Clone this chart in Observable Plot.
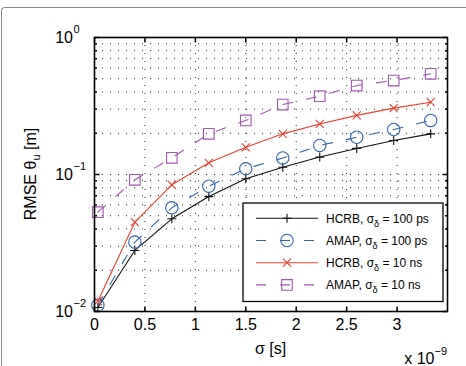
<!DOCTYPE html>
<html>
<head>
<meta charset="utf-8">
<script src="https://cdn.jsdelivr.net/npm/d3@7"></script>
<script src="https://cdn.jsdelivr.net/npm/@observablehq/plot@0.6"></script>
<style>
  body { margin: 0; background: #fff; }
  #fig { position: relative; width: 466px; height: 366px; overflow: hidden; background: #fff;
         font-family: "Liberation Sans", Arial, Helvetica, sans-serif; }
  #fig svg { display: block; }
  #edge { position: absolute; left: 1px; top: 6.5px; width: 500px; height: 420px;
          border-top: 1.5px solid #8a8a8a; border-left: 1.5px solid #8a8a8a;
          border-top-left-radius: 4px; pointer-events: none; }
</style>
</head>
<body>
<div id="fig"><div id="edge"></div></div>
<script>
// σ values along the x axis, in units of 1e-9 s (shown with the "x 10^-9" multiplier)
const sigmaNs = [0.0333, 0.4, 0.7667, 1.1333, 1.5, 1.8667, 2.2333, 2.6, 2.9667, 3.3333];

// RMSE of θ_u [m] for each curve
const hcrb100ps = [0.0107, 0.0279, 0.0475, 0.069, 0.093, 0.113, 0.134, 0.155, 0.177, 0.198];
const amap100ps = [0.0111, 0.0321, 0.0571, 0.0822, 0.110, 0.132, 0.163, 0.187, 0.213, 0.248];
const hcrb10ns  = [0.0119, 0.0449, 0.0841, 0.1217, 0.158, 0.198, 0.234, 0.270, 0.305, 0.337];
const amap10ns  = [0.0531, 0.0915, 0.1324, 0.198, 0.248, 0.324, 0.373, 0.446, 0.485, 0.543];

// legend text parts
const seriesMethod = ["HCRB", "AMAP", "HCRB", "AMAP"];
const seriesDelta  = ["100 ps", "100 ps", "10 ns", "10 ns"];

// axis ticks
const xTicks = [0, 0.5, 1, 1.5, 2, 2.5, 3];
const yTicks = [0.01, 0.1, 1];
const yMinor = [0.02, 0.03, 0.04, 0.05, 0.06, 0.07, 0.08, 0.09, 0.2, 0.3, 0.4, 0.5, 0.6, 0.7, 0.8, 0.9];

// ---- marker shapes (fixed pixel size, stroke only) ----
const plusSym  = {draw(c) { const a = 4.5; c.moveTo(-a, 0); c.lineTo(a, 0); c.moveTo(0, -a); c.lineTo(0, a); }};
const timesSym = {draw(c) { const a = 4; c.moveTo(-a, -a); c.lineTo(a, a); c.moveTo(-a, a); c.lineTo(a, -a); }};
const circSym  = {draw(c) { const r = 6.2; c.moveTo(r, 0); c.arc(0, 0, r, 0, 2 * Math.PI); c.closePath(); }};
const sqSym    = {draw(c) { const a = 5.3; c.moveTo(-a, -a); c.lineTo(a, -a); c.lineTo(a, a); c.lineTo(-a, a); c.closePath(); }};
const tickSym  = (dx, dy) => ({draw(c) { c.moveTo(0, 0); c.lineTo(dx, dy); }});

const styles = [
  {color: "#111111", dash: null,    symbol: plusSym},
  {color: "#3363ad", dash: "10,14", symbol: circSym},
  {color: "#e8402f", dash: null,    symbol: timesSym},
  {color: "#a157ae", dash: "10,14", symbol: sqSym}
];
const seriesValues = [hcrb100ps, amap100ps, hcrb10ns, amap10ns];

const series = seriesValues.map((vals, k) => sigmaNs.map((x, j) => ({x, y: vals[j], k})));

const W = 466, H = 366;
const mL = 94, mR = 19, mT = 37, mB = 55;
const MAJ = 5, MIN = 2.5;

const marks = [
  // dotted grid
  Plot.gridX(xTicks.filter(d => d > 0), {stroke: "#000", strokeOpacity: 0.85, strokeWidth: 1, strokeDasharray: "1,7"}),
  Plot.gridY(yMinor.concat([0.1]), {stroke: "#000", strokeOpacity: 0.85, strokeWidth: 1, strokeDasharray: "1,7"}),
];

// curves and their markers
series.forEach((data, k) => {
  const s = styles[k];
  marks.push(Plot.line(data, {x: "x", y: "y", stroke: s.color, strokeWidth: 1.1, strokeDasharray: s.dash}));
  marks.push(Plot.dot(data, {x: "x", y: "y", symbol: s.symbol, stroke: s.color, fill: "none", strokeWidth: 1.1}));
});

// inward ticks on all four sides
marks.push(
  Plot.dot(xTicks, {x: d => d, frameAnchor: "bottom", symbol: tickSym(0, -MAJ), stroke: "#000", fill: "none"}),
  Plot.dot(xTicks, {x: d => d, frameAnchor: "top", symbol: tickSym(0, MAJ), stroke: "#000", fill: "none"}),
  Plot.dot(yTicks, {y: d => d, frameAnchor: "left", symbol: tickSym(MAJ, 0), stroke: "#000", fill: "none"}),
  Plot.dot(yTicks, {y: d => d, frameAnchor: "right", symbol: tickSym(-MAJ, 0), stroke: "#000", fill: "none"}),
  Plot.dot(yMinor, {y: d => d, frameAnchor: "left", symbol: tickSym(MIN, 0), stroke: "#000", fill: "none"}),
  Plot.dot(yMinor, {y: d => d, frameAnchor: "right", symbol: tickSym(-MIN, 0), stroke: "#000", fill: "none"}),
  Plot.frame({stroke: "#000", strokeWidth: 1.6}),
  // x tick labels
  Plot.axisX(xTicks, {anchor: "bottom", tickSize: 0, tickPadding: 7, fontSize: 16, label: null,
                      tickFormat: d => String(d)}),
  // y tick labels: "10" with a raised exponent
  Plot.text(yTicks, {y: d => d, frameAnchor: "left", text: () => "10", textAnchor: "end",
                     dx: -21.5, fontSize: 16, lineAnchor: "middle"}),
  Plot.text(yTicks, {y: d => d, frameAnchor: "left", textAnchor: "start", dx: -21, dy: -8.5, fontSize: 11,
                     lineAnchor: "middle",
                     text: d => { const e = Math.round(Math.log10(d)); return e < 0 ? "\u2212" + (-e) : String(e); }})
);

const plot = Plot.plot({
  width: W, height: H,
  marginLeft: mL, marginRight: mR, marginTop: mT, marginBottom: mB,
  style: {fontFamily: "'Liberation Sans', Arial, Helvetica, sans-serif", background: "transparent", color: "#000"},
  x: {domain: [0, 3.5], axis: null},
  y: {type: "log", domain: [0.01, 1], axis: null},
  marks
});

const svg = d3.select(plot);

// y-axis title
const yl = svg.append("text")
  .attr("transform", `translate(35.5,${(mT + H - mB) / 2}) rotate(-90)`)
  .attr("text-anchor", "middle").attr("font-size", 16).attr("fill", "#000");
yl.append("tspan").text("RMSE \u03b8");
yl.append("tspan").attr("font-size", 11).attr("dy", 4).text("u");
yl.append("tspan").attr("dy", -4).text(" [m]");

// x-axis title
svg.append("text").attr("x", (mL + W - mR) / 2).attr("y", 354)
  .attr("text-anchor", "middle").attr("font-size", 16).attr("fill", "#000")
  .text("\u03c3 [s]");

// exponent multiplier for the x axis
const mx = svg.append("text").attr("x", W - mR).attr("y", 363.5)
  .attr("text-anchor", "end").attr("font-size", 16).attr("fill", "#000");
mx.append("tspan").text("x 10");
mx.append("tspan").attr("font-size", 11).attr("dy", -9).text("\u22129");

// legend box
const lg = svg.append("g").attr("transform", "translate(243,203)");
lg.append("rect").attr("width", 200).attr("height", 98.5)
  .attr("fill", "#fff").attr("stroke", "#000").attr("stroke-width", 1.3);
seriesMethod.forEach((m, i) => {
  const s = styles[i];
  const y = 15.3 + i * 22.2;
  lg.append("line").attr("x1", 13).attr("x2", 75).attr("y1", y).attr("y2", y)
    .attr("stroke", s.color).attr("stroke-width", 1.1)
    .attr("stroke-dasharray", s.dash);
  const p = d3.path(); s.symbol.draw(p);
  lg.append("path").attr("d", p.toString()).attr("transform", `translate(44,${y})`)
    .attr("fill", "none").attr("stroke", s.color).attr("stroke-width", 1.1);
  const t = lg.append("text").attr("x", 83).attr("y", y + 4.3).attr("font-size", 12)
    .attr("text-anchor", "start").attr("fill", "#000");
  t.append("tspan").text(`${m}, \u03c3`);
  t.append("tspan").attr("font-size", 9).attr("dy", 4).text("\u03b4");
  t.append("tspan").attr("dy", -4).text(` = ${seriesDelta[i]}`);
});

document.getElementById("fig").insertBefore(plot, document.getElementById("edge"));
</script>
</body>
</html>
